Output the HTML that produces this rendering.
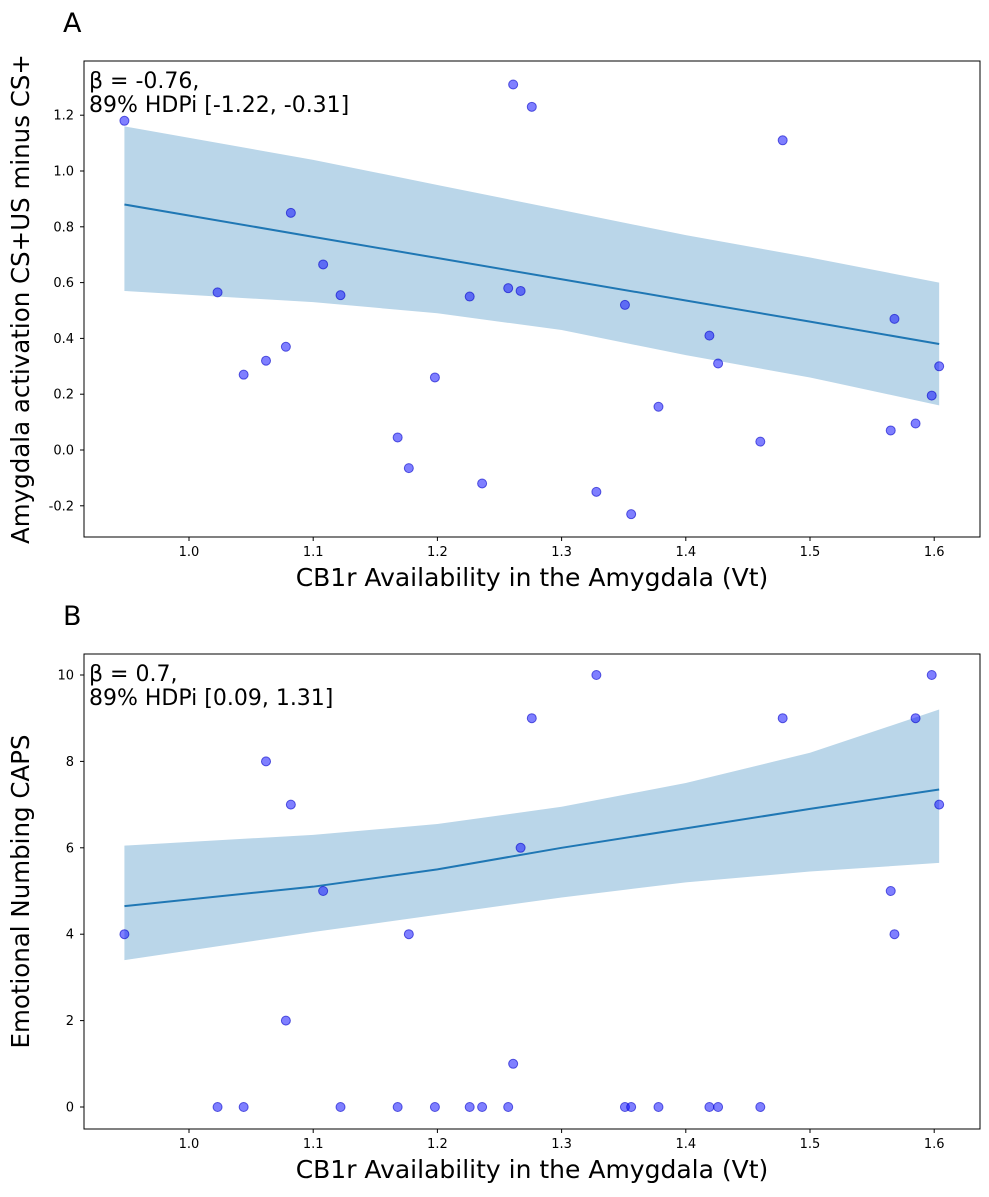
<!DOCTYPE html>
<html><head><meta charset="utf-8"><style>
body{margin:0;background:#fff}
svg{font-family:"DejaVu Sans","Liberation Sans",sans-serif}
</style></head><body>
<svg id="s" width="989" height="1192"></svg>
<script>
const xsVals=[0.948,1.023,1.044,1.062,1.078,1.082,1.108,1.122,1.168,1.177,1.198,1.226,1.236,1.257,1.261,1.267,1.276,1.328,1.351,1.356,1.378,1.419,1.426,1.460,1.478,1.565,1.568,1.585,1.598,1.604];
const ysA=[1.18,0.565,0.27,0.32,0.37,0.85,0.665,0.555,0.045,-0.065,0.26,0.55,-0.12,0.58,1.31,0.57,1.23,-0.15,0.52,-0.23,0.155,0.41,0.31,0.03,1.11,0.07,0.47,0.095,0.195,0.30];
const ysB=[4,0,0,8,2,7,5,0,0,4,0,0,0,0,1,6,9,10,0,0,0,0,0,0,9,5,4,9,10,7];
const bandX=[0.948,1.1,1.2,1.3,1.4,1.5,1.604];
const lineA=[0.88,0.764,0.688,0.612,0.536,0.460,0.38];
const upA=[1.16,1.04,0.95,0.86,0.77,0.69,0.60];
const loA=[0.57,0.53,0.49,0.43,0.34,0.26,0.16];
const lineB=[4.65,5.1,5.5,6.0,6.45,6.9,7.35];
const upB=[6.05,6.3,6.55,6.95,7.5,8.2,9.2];
const loB=[3.4,4.05,4.45,4.85,5.2,5.45,5.65];
const xTicks=[1.0,1.1,1.2,1.3,1.4,1.5,1.6];
const yTicksA=[-0.2,0.0,0.2,0.4,0.6,0.8,1.0,1.2];
const yTicksB=[0,2,4,6,8,10];
const NS='http://www.w3.org/2000/svg',svg=document.getElementById('s');
function mk(t,a,p){const e=document.createElementNS(NS,t);for(const k in a)e.setAttribute(k,a[k]);(p||svg).appendChild(e);return e;}
const X=v=>189+(v-1)*1242;
function panel(o){
 const g=mk('g',{});
 
 
 const Y=v=>o.y0+(v-o.v0)*o.k;
 let d='M'+bandX.map((x,i)=>X(x)+','+Y(o.up[i])).join('L')+'L'+bandX.slice().reverse().map((x,i)=>X(x)+','+Y(o.lo[bandX.length-1-i])).join('L')+'Z';
 const b=mk('path',{d:d,fill:'#bad6e9'},g);
 
 
 const l=mk('path',{d:'M'+bandX.map((x,i)=>X(x)+','+Y(o.line[i])).join('L'),fill:'none',stroke:'#1f77b4','stroke-width':2},g);
 
 
 xsVals.forEach((x,i)=>{const c=mk('circle',{cx:X(x),cy:Y(o.ys[i]),r:4.5,fill:'rgba(0,0,255,0.5)',stroke:'rgba(0,0,200,0.6)','stroke-width':1},g);
  
  });
 const r=mk('rect',{x:84,y:o.top,width:896,height:o.h,fill:'none',stroke:'#000','stroke-width':1},g);
 
 
 const bot=o.top+o.h;
 xTicks.forEach(t=>{mk('line',{x1:X(t),x2:X(t),y1:bot,y2:bot+4,stroke:'#000'},g);
  const tx=mk('text',{x:X(t),y:bot+19,'font-size':13,'text-anchor':'middle'},g);tx.textContent=t.toFixed(1);
  
  });
 o.yt.forEach(t=>{mk('line',{x1:80,x2:84,y1:Y(t),y2:Y(t),stroke:'#000'},g);
  const tx=mk('text',{x:74,y:Y(t)+4.5,'font-size':13,'text-anchor':'end'},g);tx.textContent=o.fmt(t);
  
  });
 const xl=mk('text',{x:532,y:bot+49,'font-size':25,'text-anchor':'middle'},g);xl.textContent='CB1r Availability in the Amygdala (Vt)';
 
 
 const yl=mk('text',{x:0,y:0,'font-size':24.5,'text-anchor':'middle',transform:`translate(29,${o.top+o.h/2}) rotate(-90)`},g);yl.textContent=o.ylab;
 
 
 const pl=mk('text',{x:63,y:o.top-29,'font-size':27},g);pl.textContent=o.letter;
 
 
 const a1=mk('text',{x:89,y:o.top+27,'font-size':22},g);a1.textContent=o.a1;
 
 
 const a2=mk('text',{x:89,y:o.top+51,'font-size':22},g);a2.textContent=o.a2;
 
 
}
panel({name:'panel-a',top:61,h:476,y0:450,v0:0,k:-279,ys:ysA,line:lineA,up:upA,lo:loA,yt:yTicksA,fmt:t=>t.toFixed(1),ylab:'Amygdala activation CS+US minus CS+',letter:'A',a1:'β = -0.76,',a2:'89% HDPi [-1.22, -0.31]'});
panel({name:'panel-b',top:654,h:475,y0:1107,v0:0,k:-43.2,ys:ysB,line:lineB,up:upB,lo:loB,yt:yTicksB,fmt:t=>String(t),ylab:'Emotional Numbing CAPS',letter:'B',a1:'β = 0.7,',a2:'89% HDPi [0.09, 1.31]'});
</script>
</body></html>
